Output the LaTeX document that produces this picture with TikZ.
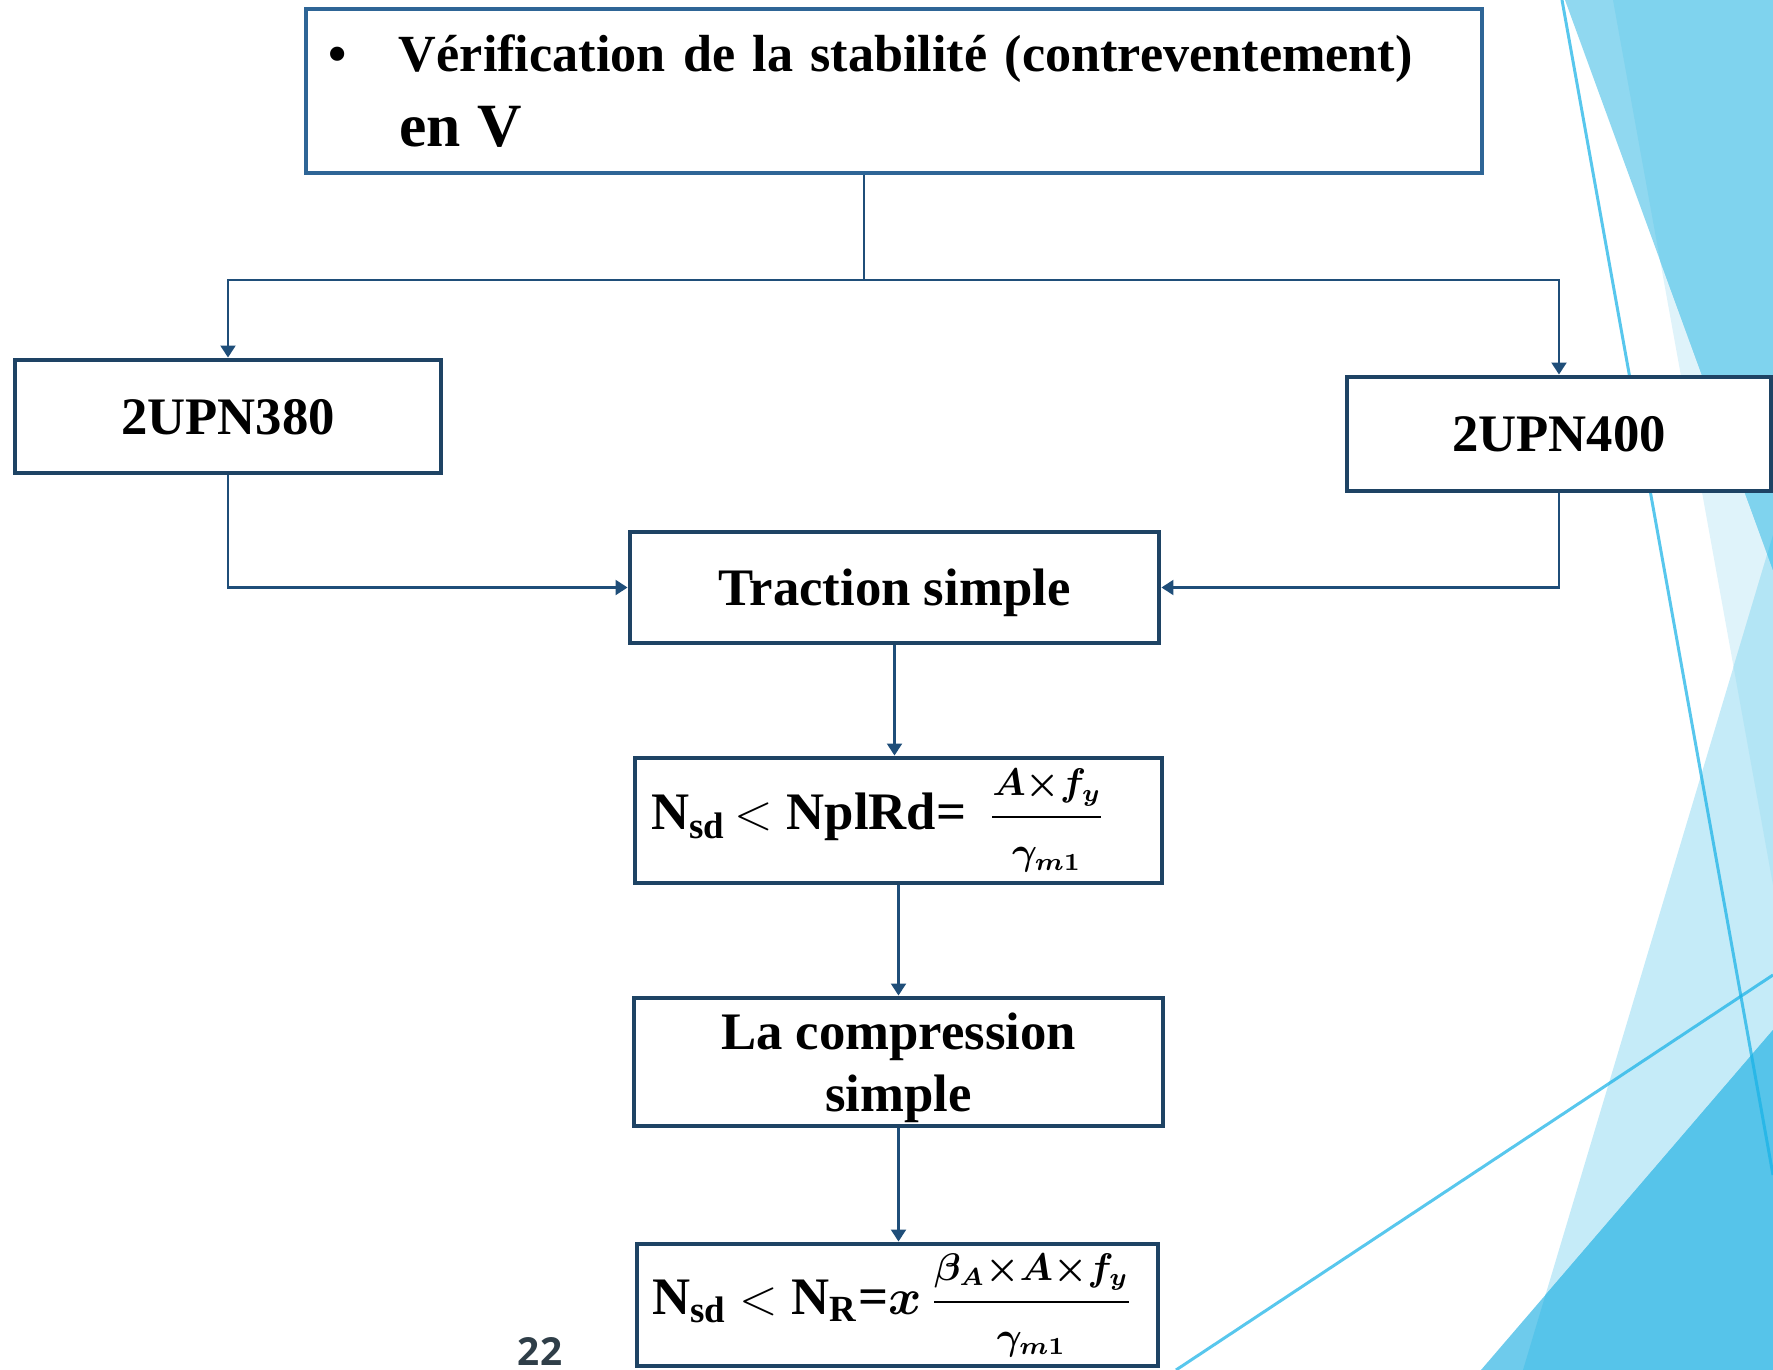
\documentclass[tikz,border=0pt]{standalone}
\usepackage{amsmath,bm}
\usepackage{fontspec}
\setmainfont{Liberation Serif}
\newfontfamily\pagefont{Open Sans}
\usetikzlibrary{arrows.meta}

\definecolor{boxblue}{RGB}{30,67,100}
\definecolor{topblue}{RGB}{46,101,150}
\definecolor{linkblue}{RGB}{31,78,121}
\definecolor{pagegrey}{RGB}{47,62,72}
\definecolor{skyA}{RGB}{144,216,240}
\definecolor{skyB}{RGB}{223,243,250}
\definecolor{skyC}{RGB}{197,235,248}
\definecolor{skyD}{RGB}{110,203,236}
\definecolor{skyAB}{RGB}{127,211,238}
\definecolor{skyAC}{RGB}{100,205,238}
\definecolor{skyBC}{RGB}{179,229,245}
\definecolor{skyDC}{RGB}{86,196,234}
\definecolor{skyline}{RGB}{24,178,230}

\newcommand\wedgeA{(1565,0) -- (1773,0) -- (1773,570) -- cycle}
\newcommand\wedgeB{(1613,0) -- (1773,0) -- (1773,885) -- cycle}
\newcommand\wedgeC{(1773,535) -- (1773,1370) -- (1523,1370) -- cycle}
\newcommand\wedgeD{(1773,1030) -- (1773,1370) -- (1481,1370) -- cycle}
\newcommand\ratio[2]{\dfrac{\scriptstyle\bm{#1}}{\scriptstyle\bm{#2}}}

\begin{document}
\begin{tikzpicture}[x=0.1mm,y=-0.1mm,>={Triangle[width=1.5mm,length=1.2mm]},
    box/.style={draw=boxblue,line width=1.4pt,fill=white,inner sep=0pt,align=center,
        font=\bfseries\fontsize{15}{17.6}\selectfont},
    single/.style={text height=10pt,text depth=0pt},
    flow/.style={draw=linkblue,line width=0.6pt},
    streak/.style={draw=skyline,line width=0.85pt,draw opacity=0.72}]
    \useasboundingbox (0,0) rectangle (1773,1370);

    \fill[skyB] \wedgeB;
    \fill[skyC] \wedgeC;
    \begin{scope} \clip \wedgeC; \fill[skyBC] \wedgeB; \end{scope}
    \fill[skyA] \wedgeA;
    \begin{scope} \clip \wedgeB; \fill[skyAB] \wedgeA; \end{scope}
    \begin{scope} \clip \wedgeC; \fill[skyAC] \wedgeA; \end{scope}
    \fill[skyD] \wedgeD;
    \begin{scope} \clip \wedgeC; \fill[skyDC] \wedgeD; \end{scope}
    \draw[streak] (1562,0) -- (1773,1175);
    \draw[streak] (1176,1370) -- (1773,975);

    \node[box,draw=topblue,line width=1.1pt,minimum width=117.6mm,minimum height=16.4mm,
        text width=113.2mm,align=left,font=\bfseries\fontsize{14.85}{21.3}\selectfont] (top) at (894,91)
        {\makebox[7.1mm][l]{•}Vérification de la stabilité (contreventement)\\
         \hspace*{7.1mm}{\fontsize{17.5}{21.3}\selectfont en V}};
    \node[box,single,minimum width=42.6mm,minimum height=11.3mm] (b380) at (228,416.5) {2UPN380};
    \node[box,single,minimum width=42.4mm,minimum height=11.4mm] (b400) at (1559,434) {2UPN400};
    \node[box,single,minimum width=52.9mm,minimum height=11.1mm] (trac) at (894.5,587.5) {Traction simple};
    \node[box,minimum width=52.7mm,minimum height=12.5mm] (f1) at (898.5,820.5)
        {N\textsubscript{sd}\,$<$ NplRd= \,$\ratio{A{\times}f_y}{\gamma_{m1}}$\hspace*{4mm}};
    \node[box,text depth=0pt,minimum width=52.9mm,minimum height=12.8mm] (comp) at (898.5,1062) {La compression\\simple};
    \node[box,minimum width=52.1mm,minimum height=12.2mm] (f2) at (897.5,1305)
        {N\textsubscript{sd} $<$ N\textsubscript{R}=$\bm{x}\,\ratio{\beta_A{\times}A{\times}f_y}{\gamma_{m1}}$\hspace*{1mm}};
    \node[inner sep=0pt,font=\pagefont\bfseries\fontsize{11}{13}\selectfont,text=pagegrey] (pnum) at (540,1351) {22};

    \coordinate (split) at (864,280);
    \draw[flow] (top.south -| split) -- (split);
    \draw[flow,->] (split) -| (b380.north);
    \draw[flow,->] (split) -| (b400.north);
    \draw[flow,->] (b380.south) |- (trac.west);
    \draw[flow,->] (b400.south) |- (trac.east);
    \foreach \a/\b in {trac/f1,f1/comp,comp/f2}
        \draw[flow,->] (\a.south) -- (\a.south |- \b.north);
\end{tikzpicture}
\end{document}
